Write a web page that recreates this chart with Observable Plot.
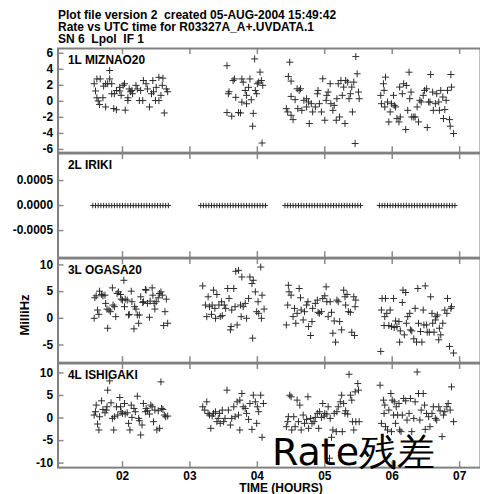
<!DOCTYPE html>
<html><head><meta charset="utf-8">
<script src="https://cdn.jsdelivr.net/npm/d3@7"></script>
<script src="https://cdn.jsdelivr.net/npm/@observablehq/plot@0.6"></script>
<style>
html,body{margin:0;padding:0;background:#fff;overflow:hidden;}
#wrap{position:relative;width:480px;height:494px;overflow:hidden;background:#fff;font-family:"Liberation Sans",Arial,sans-serif;}
.t{position:absolute;font-weight:bold;font-size:12px;line-height:12px;white-space:pre;color:#000;}
.panel{position:absolute;left:0;}
</style></head><body><div id="wrap"></div>
<script>
const titleLines = [
  "Plot file version 2  created 05-AUG-2004 15:49:42",
  "Rate vs UTC time for R03327A_A+.UVDATA.1",
  "SN 6  Lpol  IF 1"
];
const xLabel = "TIME (HOURS)";
const yLabel = "MilliHz";
const overlayText = "Rate残差";
const xTicks = [2, 3, 4, 5, 6, 7];
const xTickLabels = ["02", "03", "04", "05", "06", "07"];
const xDomain = [1.044, 7.309];
const panelNames = ["1L MIZNAO20", "2L IRIKI", "3L OGASA20", "4L ISHIGAKI"];
const yDomains = [[-6.4, 6.6], [-0.00104, 0.00104], [-8.3, 11.2], [-11, 12.1]];
const yTicks1 = [-6, -4, -2, 0, 2, 4, 6];
const yTicks2 = [-0.0005, 0, 0.0005];
const yTicks3 = [-5, 0, 5, 10];
const yTicks4 = [-10, -5, 0, 5, 10];

// [time (hours), rate (mHz)]
const mizusawa = [
[1.58,2.2],[1.62,2.8],[1.67,2.8],[1.60,1.3],[1.62,0.45],[1.64,0.05],[1.66,-0.4],[1.71,0.45],[1.75,-0.7],[1.72,1.9],
[1.75,2.2],[1.78,2.2],[1.81,3.85],[1.81,2.8],[1.84,2.2],[1.84,0.95],[1.87,-0.9],[1.91,-1.05],[1.88,0.95],[1.91,1.35],
[1.96,1.3],[1.96,1.75],[1.98,0.75],[2.01,2.0],[2.04,-1.1],[2.03,2.2],[2.08,0.1],[2.08,0.45],[2.10,1.55],[2.12,1.2],
[2.14,1.35],[2.15,0.95],[2.20,2.0],[2.22,1.55],[2.25,0.1],[2.27,1.35],[2.30,0.1],[2.31,2.6],[2.35,2.2],[2.37,1.55],
[2.40,-0.7],[2.43,0.95],[2.45,2.6],[2.46,1.2],[2.49,0.1],[2.50,1.75],[2.54,0.1],[2.54,3.0],[2.57,0.75],[2.60,2.9],
[2.59,2.0],[2.62,-1.45],[2.65,1.55],[2.67,1.2],
[3.55,4.45],[3.57,0.95],[3.58,1.2],[3.62,-1.85],[3.55,-1.4],[3.64,2.6],[3.66,2.8],[3.68,0.5],[3.72,-1.4],[3.75,-1.45],
[3.77,2.8],[3.79,2.4],[3.82,1.35],[3.84,0.75],[3.87,1.75],[3.89,2.8],[3.77,-0.1],[3.84,-0.3],[3.91,0.2],[3.96,5.3],
[3.94,-1.5],[3.93,-3.1],[3.99,0.95],[3.97,1.35],[4.04,3.65],[4.02,2.4],[4.06,2.6],[4.08,2.0],[4.07,-5.2],[4.00,2.2],
[4.48,4.89],[4.46,3.11],[4.50,2.53],[4.43,-0.91],[4.45,-1.32],[4.50,-1.74],[4.53,-2.28],[4.50,0.62],[4.56,0.21],[4.59,1.57],
[4.62,1.37],[4.64,1.57],[4.60,-0.91],[4.66,-1.12],[4.69,0.13],[4.73,0.33],[4.73,-0.7],[4.76,-0.08],[4.77,-2.77],[4.80,-0.29],
[4.82,-1.32],[4.86,-0.7],[4.89,0.95],[4.90,1.37],[4.92,-0.29],[4.95,-1.32],[4.97,2.82],[5.00,-2.36],[5.02,0.13],[5.03,0.75],
[5.05,1.16],[5.08,2.2],[5.09,-0.29],[5.12,-1.12],[5.14,-0.5],[5.17,-2.36],[5.18,0.33],[5.20,2.2],[5.22,-1.95],[5.24,2.61],
[5.26,0.75],[5.28,1.78],[5.30,-2.77],[5.31,2.61],[5.34,2.4],[5.36,0.33],[5.38,0.95],[5.40,1.78],[5.41,-1.32],[5.43,2.4],
[5.45,-5.26],[5.46,5.59],[5.48,3.44],[5.50,1.16],[5.51,0.33],
[5.83,0.75],[5.84,-0.29],[5.87,2.2],[5.88,1.37],[5.90,3.02],[5.89,-0.7],[5.93,-0.08],[5.95,-2.57],[5.97,-1.32],[5.99,-0.29],
[6.02,0.75],[6.03,-0.5],[6.05,-0.7],[6.07,-2.15],[6.10,-2.57],[6.11,1.78],[6.12,-1.95],[6.15,0.95],[6.17,2.2],[6.20,-3.52],
[6.21,1.99],[6.23,-1.12],[6.25,3.64],[6.26,0.33],[6.28,1.16],[6.29,-1.95],[6.32,-1.95],[6.34,-1.95],[6.37,-0.7],[6.39,-2.57],
[6.41,0.13],[6.43,-0.08],[6.46,0.75],[6.48,1.37],[6.51,1.57],[6.52,-3.27],[6.54,-0.08],[6.56,-0.08],[6.57,3.35],[6.60,1.16],
[6.61,-1.12],[6.64,-0.29],[6.66,0.95],[6.69,-0.08],[6.70,-1.12],[6.72,1.37],[6.75,0.54],[6.76,-2.15],[6.78,-1.03],[6.80,0.13],
[6.82,1.37],[6.85,-2.28],[6.86,-3.1],[6.87,3.35],[6.88,1.78],[6.91,-4.02]
];

const irikiTimes = [
1.56,1.60,1.64,1.68,1.72,1.76,1.80,1.84,1.88,1.92,1.96,2.00,2.04,2.08,2.12,2.16,2.20,2.24,2.28,2.32,2.36,2.40,2.44,2.48,2.52,2.56,2.60,2.64,2.68,
3.16,3.20,3.24,3.28,3.32,3.36,3.40,3.44,3.48,3.52,3.56,3.60,3.64,3.68,3.72,3.76,3.80,3.84,3.88,3.92,3.96,4.00,4.04,4.08,4.12,
4.41,4.45,4.49,4.53,4.57,4.61,4.65,4.69,4.73,4.77,4.81,4.85,4.89,4.93,4.97,5.01,5.05,5.09,5.13,5.17,5.21,5.25,5.29,5.33,5.37,5.41,5.45,5.49,5.53,
5.81,5.85,5.89,5.93,5.97,6.01,6.05,6.09,6.13,6.17,6.21,6.25,6.29,6.33,6.37,6.41,6.45,6.49,6.53,6.57,6.61,6.65,6.69,6.73,6.77,6.81,6.85,6.89,6.93
];
const irikiRate = 0.0; // all solutions at 0.0000

const ogasawara = [
[1.58,0.0],[1.59,3.84],[1.61,4.21],[1.63,1.55],[1.65,0.74],[1.66,5.08],[1.69,4.46],[1.71,4.21],[1.74,4.33],[1.75,2.79],
[1.77,1.73],[1.78,-1.86],[1.80,1.55],[1.82,1.24],[1.85,5.7],[1.86,2.48],[1.88,2.17],[1.90,0.31],[1.92,4.65],[1.94,4.95],
[1.97,4.46],[1.98,3.59],[2.00,3.41],[2.02,7.12],[2.03,2.17],[2.04,3.59],[2.07,3.41],[2.09,0.62],[2.10,0.74],[2.13,5.08],
[2.14,3.1],[2.17,-1.98],[2.18,2.17],[2.20,1.73],[2.22,0.62],[2.24,-0.93],[2.25,0.62],[2.27,4.03],[2.30,2.97],[2.31,3.1],
[2.34,5.39],[2.35,5.27],[2.37,2.79],[2.40,0.19],[2.41,3.22],[2.44,5.7],[2.45,4.33],[2.47,2.79],[2.48,1.73],[2.50,3.1],
[2.53,3.84],[2.55,4.65],[2.57,4.95],[2.59,4.33],[2.61,-1.36],[2.63,1.24],[2.65,3.59],[2.67,-0.93],
[3.19,6.07],[3.23,2.48],[3.25,0.31],[3.27,4.03],[3.29,2.17],[3.32,0.74],[3.33,2.48],[3.35,5.27],[3.37,1.86],[3.38,0.0],
[3.40,4.46],[3.43,2.48],[3.45,0.31],[3.47,3.1],[3.48,0.5],[3.51,2.48],[3.53,1.86],[3.56,5.58],[3.58,3.72],[3.60,-2.17],
[3.61,-1.55],[3.62,1.55],[3.65,5.58],[3.67,2.17],[3.68,8.8],[3.70,-1.24],[3.72,8.98],[3.77,7.74],[3.75,2.48],[3.79,2.17],
[3.82,2.79],[3.76,0.31],[3.84,0.0],[3.87,3.72],[3.89,7.74],[3.92,6.5],[3.94,7.12],[3.93,-3.72],[3.97,4.95],[3.99,1.24],
[4.01,3.1],[4.02,0.93],[4.05,9.6],[4.06,0.0],[4.07,4.33],[4.10,1.73],
[4.46,6.19],[4.47,4.95],[4.43,-1.24],[4.45,2.48],[4.50,4.33],[4.53,0.31],[4.55,1.86],[4.57,-0.93],[4.59,0.93],[4.62,5.58],
[4.64,3.84],[4.65,1.55],[4.68,-0.31],[4.70,1.24],[4.73,2.48],[4.75,3.1],[4.76,-1.55],[4.79,-3.22],[4.81,-0.62],[4.82,1.86],
[4.86,2.79],[4.89,3.41],[4.90,1.12],[4.92,0.93],[4.95,1.24],[4.97,3.72],[5.00,4.21],[5.02,5.89],[5.03,3.1],[5.05,0.31],
[5.08,3.1],[5.10,1.12],[5.12,-2.79],[5.14,-0.5],[5.16,-4.46],[5.18,3.41],[5.20,3.1],[5.22,-0.62],[5.25,-2.17],[5.28,5.27],
[5.30,4.03],[5.31,2.48],[5.33,4.46],[5.35,1.24],[5.38,1.12],[5.40,-2.6],[5.43,4.03],[5.44,-3.22],[5.45,2.17],[5.46,3.41],
[5.83,-6.2],[5.84,1.55],[5.85,3.72],[5.89,0.31],[5.90,3.72],[5.88,-1.36],[5.92,0.93],[5.95,-1.36],[5.97,1.55],[5.99,-1.55],
[6.02,3.72],[6.03,-1.74],[6.05,-0.5],[6.07,-1.55],[6.10,-0.62],[6.11,-4.46],[6.12,-2.36],[6.15,2.97],[6.16,5.27],[6.18,-3.1],
[6.20,4.83],[6.21,-0.93],[6.23,0.31],[6.26,0.93],[6.27,-2.17],[6.29,-2.36],[6.32,-3.84],[6.34,1.86],[6.36,-4.46],[6.38,5.58],
[6.39,-0.93],[6.42,-2.48],[6.44,-4.46],[6.46,1.55],[6.47,-1.24],[6.49,6.07],[6.51,-1.24],[6.52,-2.6],[6.55,-2.6],[6.57,4.03],
[6.59,0.93],[6.60,-0.93],[6.62,-2.6],[6.64,-0.31],[6.65,0.31],[6.67,0.62],[6.69,-4.03],[6.70,-1.86],[6.72,-3.1],[6.75,-0.93],
[6.78,1.55],[6.81,0.93],[6.82,3.72],[6.85,-5.27],[6.87,1.86],[6.88,2.17],[6.91,-6.5]
];

const ishigaki = [
[1.58,0.66],[1.60,1.4],[1.61,2.87],[1.63,-1.33],[1.65,-2.65],[1.66,0.29],[1.69,3.82],[1.71,1.91],[1.74,1.17],[1.76,1.76],
[1.77,2.5],[1.78,6.18],[1.81,8.24],[1.83,3.38],[1.85,-0.08],[1.87,-2.65],[1.88,0.29],[1.91,2.5],[1.93,0.66],[1.96,4.56],
[1.97,2.5],[1.98,1.4],[2.00,1.03],[2.03,3.23],[2.04,0.88],[2.07,1.17],[2.09,-1.18],[2.11,-2.65],[2.13,2.87],[2.14,0.14],
[2.17,2.13],[2.19,1.4],[2.22,4.85],[2.24,-0.08],[2.25,-0.59],[2.27,-3.76],[2.29,-1.55],[2.31,3.23],[2.34,1.4],[2.35,2.13],
[2.37,1.61],[2.40,0.88],[2.42,2.87],[2.44,2.5],[2.46,-0.81],[2.48,1.76],[2.51,-2.65],[2.53,1.61],[2.55,-2.28],[2.57,8.02],
[2.58,2.13],[2.60,1.91],[2.62,0.66],[2.64,0.29],[2.67,0.44],
[3.19,2.5],[3.22,1.76],[3.25,3.6],[3.27,1.03],[3.29,0.66],[3.31,-2.28],[3.33,0.44],[3.35,1.03],[3.38,1.4],[3.40,-0.81],
[3.42,-0.08],[3.44,1.03],[3.45,-1.18],[3.48,1.76],[3.50,-0.81],[3.52,-0.08],[3.55,6.18],[3.57,1.76],[3.60,-1.55],[3.62,-0.08],
[3.65,2.5],[3.67,0.29],[3.70,3.6],[3.74,3.97],[3.77,5.44],[3.79,2.5],[3.82,2.13],[3.84,1.03],[3.87,-0.3],[3.89,3.23],
[3.92,-2.51],[3.94,5.07],[3.97,3.6],[3.99,-1.18],[4.00,2.5],[4.02,1.4],[4.05,5.07],[4.07,-4.27],[4.09,3.23],[3.72,0.66],[3.74,-2.65],
[4.43,-1.92],[4.45,-0.81],[4.46,0.29],[4.48,5.07],[4.50,4.71],[4.51,-2.65],[4.54,0.29],[4.56,-1.92],[4.59,3.97],[4.61,-0.81],
[4.63,2.87],[4.65,-2.65],[4.68,0.66],[4.70,-1.18],[4.73,-0.3],[4.75,4.71],[4.76,-2.28],[4.79,-0.08],[4.81,-1.18],[4.84,-0.81],
[4.86,0.14],[4.89,1.03],[4.91,-2.28],[4.92,1.4],[4.95,0.14],[4.97,3.23],[4.99,0.44],[5.00,1.03],[5.03,0.88],[5.05,2.5],
[5.07,-8.91],[5.08,-0.08],[5.10,-4.27],[5.12,-2.65],[5.14,1.03],[5.17,-3.02],[5.18,1.4],[5.20,2.5],[5.23,3.6],[5.25,5.07],
[5.26,-3.02],[5.28,3.23],[5.30,1.03],[5.31,1.61],[5.34,0.88],[5.36,9.71],[5.38,5.07],[5.40,3.97],[5.41,-0.81],[5.43,-2.65],
[5.45,5.81],[5.46,-0.81],[5.49,7.65],[5.50,6.18],[5.51,-0.81],
[5.82,7.28],[5.84,-1.18],[5.87,3.97],[5.88,1.03],[5.89,2.87],[5.90,-1.92],[5.93,-2.65],[5.95,1.76],[5.98,5.44],[5.99,-3.02],
[6.00,3.97],[6.02,0.66],[6.03,3.6],[6.05,-1.18],[6.06,2.5],[6.08,0.66],[6.10,3.23],[6.11,-2.65],[6.13,-3.02],[6.15,0.66],
[6.17,4.34],[6.20,3.82],[6.22,-0.45],[6.25,1.03],[6.27,4.34],[6.29,-3.02],[6.32,-0.08],[6.34,3.6],[6.37,10.22],[6.39,5.44],
[6.41,-0.45],[6.43,1.76],[6.46,5.44],[6.48,2.87],[6.49,-2.51],[6.51,1.03],[6.54,0.29],[6.56,-1.92],[6.59,1.03],[6.61,2.5],
[6.64,-0.08],[6.66,-0.45],[6.69,2.5],[6.71,1.61],[6.74,-4.12],[6.76,0.66],[6.78,1.4],[6.81,2.5],[6.83,3.23],[6.86,1.76],
[6.88,6.91],[6.91,-0.81]
];

const irikiPts = irikiTimes.map(t => [t, irikiRate]);
const panelData = [mizusawa, irikiPts, ogasawara, ishigaki];
const panelTicks = [yTicks1, yTicks2, yTicks3, yTicks4];
const panelFmt = [d => String(d), d => d.toFixed(4), d => String(d), d => String(d)];
const markerR = [3.5, 2.7, 3.5, 3.5];

const FONT = '"Liberation Sans", Arial, sans-serif';
const plusSymbol = {
  draw(ctx, size) {
    const r = Math.sqrt(size / Math.PI);
    ctx.moveTo(-r, 0); ctx.lineTo(r, 0);
    ctx.moveTo(0, -r); ctx.lineTo(0, r);
  }
};

const wrap = document.getElementById("wrap");
const W = 484, ML = 58, PH = 105, TOP0 = 48;
const innerW = W - ML;

panelData.forEach((pts, i) => {
  const last = i === panelData.length - 1;
  const mb = last ? 24 : 0;
  const marks = [
    Plot.dot(pts, {x: d => d[0], y: d => d[1], symbol: plusSymbol, r: markerR[i], stroke: "#2a2a2a", strokeWidth: 1, fill: "none"}),
    Plot.tickX(xTicks, {x: d => d, insetBottom: PH - 6, stroke: "#8a8a8a", strokeWidth: 1.5}),
    Plot.tickX(xTicks, {x: d => d, insetTop: PH - 6, stroke: "#8a8a8a", strokeWidth: 1.5}),
    Plot.tickY(panelTicks[i], {y: d => d, insetRight: innerW - 6, stroke: "#8a8a8a", strokeWidth: 1.5}),
    Plot.frame({stroke: "#808080", strokeWidth: 2}),
    Plot.axisY(panelTicks[i], {anchor: "left", tickSize: 0, tickPadding: 5, tickFormat: panelFmt[i], label: null, fontSize: 12, fontWeight: "bold", fill: "#000"}),
    Plot.text([panelNames[i]], {frameAnchor: "top-left", dx: 10, dy: 7, lineAnchor: "top", textAnchor: "start", fontSize: 12, fontWeight: "bold", fill: "#000"})
  ];
  if (last) {
    marks.push(Plot.axisX(xTicks, {anchor: "bottom", tickSize: 0, tickPadding: 4, tickFormat: d => xTickLabels[xTicks.indexOf(d)], label: null, fontSize: 12, fontWeight: "bold", fill: "#000"}));
  }
  const svg = Plot.plot({
    width: W, height: PH + mb,
    marginLeft: ML, marginRight: 0, marginTop: 0, marginBottom: mb,
    x: {domain: xDomain, axis: null},
    y: {domain: yDomains[i], axis: null},
    style: {background: "transparent", overflow: "visible", fontFamily: FONT},
    marks
  });
  const holder = document.createElement("div");
  holder.className = "panel";
  holder.style.top = (TOP0 + PH * i) + "px";
  holder.appendChild(svg);
  wrap.appendChild(holder);
});

function addText(txt, css) {
  const d = document.createElement("div");
  d.className = "t";
  d.textContent = txt;
  Object.assign(d.style, css);
  wrap.appendChild(d);
  return d;
}
addText(titleLines.join("\n"), {left: "58px", top: "9px"});
addText(xLabel, {left: "281px", top: "483px", lineHeight: "11px", transform: "translateX(-50%)"});
addText(yLabel, {left: "25px", top: "315px", transform: "translate(-50%,-50%) rotate(-90deg)", fontSize: "13px"});
addText(overlayText, {left: "272px", top: "437px", fontWeight: "normal", fontSize: "38px", lineHeight: "30px", fontFamily: '"DejaVu Sans", sans-serif'});
</script>
</body></html>
